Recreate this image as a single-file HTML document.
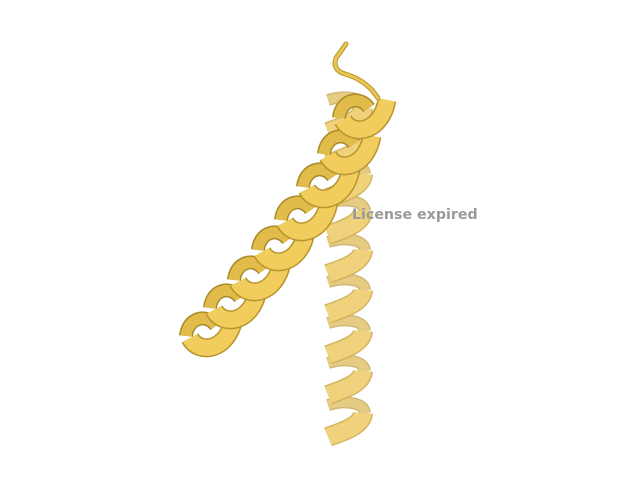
<!DOCTYPE html>
<html><head><meta charset="utf-8"><style>
html,body{margin:0;padding:0;background:#fff;}
svg{display:block;}
</style></head><body>
<svg id="scene" width="640" height="480" viewBox="0 0 640 480">
<g id="helices"></g>
<path d="M346 44 L336 58 Q332 70 345 74 Q360 78 372 90 L378 98" fill="none" stroke="#b8962c" stroke-width="5" stroke-linecap="round"/>
<path d="M346 44 L336 58 Q332 70 345 74 Q360 78 372 90 L378 98" fill="none" stroke="#e8c455" stroke-width="3" stroke-linecap="round"/>
<text x="352" y="219" font-family="'DejaVu Sans', 'Liberation Sans', sans-serif" font-weight="bold" font-size="14.2" fill="#9a9a9a">License expired</text>
</svg>
<script>
const leftTurnsX=[207,231,255,279,302,324,345,360];
const leftTurnsY=[330,302,274,244,214,181,148,112];
const rightTurnsY=[435,393,353,312,272,233,196,162,130];
const rightX=344;
const g=document.getElementById('helices');
const NS='http://www.w3.org/2000/svg';
function band(d,fill,edge,name,op,w){
  const p=document.createElementNS(NS,'path');
  p.setAttribute('d',d);p.setAttribute('fill','none');
  p.setAttribute('stroke',edge);p.setAttribute('stroke-width',w+3);
  p.setAttribute('opacity',op);
  
  
  g.appendChild(p);
  const q=document.createElementNS(NS,'path');
  q.setAttribute('d',d);q.setAttribute('fill','none');
  q.setAttribute('stroke',fill);q.setAttribute('stroke-width',w);q.setAttribute('opacity',op);
  
  
  g.appendChild(q);
}
// right helix (behind)
rightTurnsY.forEach((y,i)=>{
  const back=`M${rightX-16} ${y-30} C${rightX} ${y-35} ${rightX+20} ${y-33} ${rightX+21} ${y-22}`;
  band(back,'#e9cf86','#c9ad5c','right-helix-back',0.85,9);
  const d=`M${rightX-16} ${y+2} C${rightX-6} ${y-2} ${rightX+18} ${y-8} ${rightX+19} ${y-22}`;
  band(d,'#f3d57e','#cfae52','right-helix-turn',0.9,17);
});
// left helix (front)
leftTurnsX.forEach((x,i)=>{
  const y=leftTurnsY[i];
  const back=`M${x-21} ${y+6} C${x-19} ${y-13} ${x} ${y-17} ${x+9} ${y-4}`;
  band(back,'#e2bc4a','#a88a28','left-helix-back',1,11);
  const d=`M${x-17} ${y+8} C${x-8} ${y+25} ${x+21} ${y+21} ${x+27} ${y-12}`;
  band(d,'#f0cd5c','#b8952c','left-helix-turn',1,16);
});
</script>
</body></html>
